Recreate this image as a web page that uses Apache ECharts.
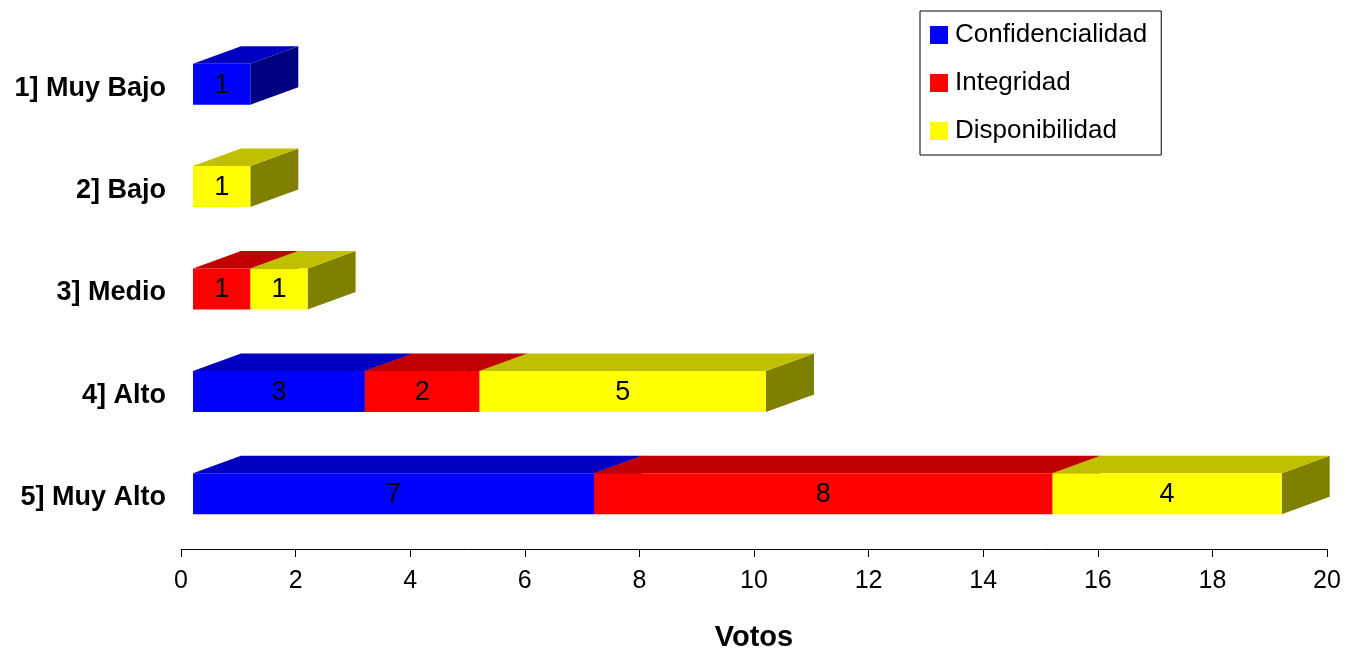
<!DOCTYPE html>
<html>
<head>
<meta charset="utf-8">
<script src="https://cdn.jsdelivr.net/npm/echarts@6/dist/echarts.min.js"></script>
<style>
html,body{margin:0;padding:0;background:#fff;}
#chart{width:1346px;height:649px;}
</style>
</head>
<body>
<div id="chart"></div>
<script>
// ---- data ----
var categories = ['1] Muy Bajo', '2] Bajo', '3] Medio', '4] Alto', '5] Muy Alto'];
var seriesNames = ['Confidencialidad', 'Integridad', 'Disponibilidad'];
var confidencialidad = [1, 0, 0, 3, 7];
var integridad = [0, 0, 1, 2, 8];
var disponibilidad = [0, 1, 1, 5, 4];
var xTicks = [0, 2, 4, 6, 8, 10, 12, 14, 16, 18, 20];

// ---- styles ----
var faceColors = [
  {front: '#0000FF', top: '#0000C0', side: '#000080'},
  {front: '#FF0000', top: '#C00000', side: '#800000'},
  {front: '#FFFF00', top: '#C0C000', side: '#808000'}
];
var FRONT_SHIFT = 12, DEPTH_X = 48, DEPTH_Y = 17.5, Y_SHIFT = -4, HEIGHT_RATIO = 0.4;

var allValues = [confidencialidad, integridad, disponibilidad];
var cum = categories.map(function () { return 0; });
var series = allValues.map(function (vals, si) {
  var data = [];
  vals.forEach(function (v, ci) {
    var start = cum[ci];
    cum[ci] += v;
    if (v > 0) data.push([start, start + v, ci, v]);
  });
  var fc = faceColors[si];
  return {
    name: seriesNames[si],
    type: 'custom',
    clip: false,
    itemStyle: {color: fc.front},
    encode: {x: [0, 1], y: 2},
    data: data,
    renderItem: function (params, api) {
      var p0 = api.coord([api.value(0), api.value(2)]);
      var p1 = api.coord([api.value(1), api.value(2)]);
      var band = api.size([0, 1])[1];
      var h = band * HEIGHT_RATIO;
      var xl = p0[0] + FRONT_SHIFT, xr = p1[0] + FRONT_SHIFT;
      var yc = p0[1] + Y_SHIFT;
      var yt = yc - h / 2, yb = yc + h / 2;
      return {
        type: 'group',
        children: [
          {type: 'polygon', shape: {points: [[xr, yt], [xr + DEPTH_X, yt - DEPTH_Y], [xr + DEPTH_X, yb - DEPTH_Y], [xr, yb]]},
           style: {fill: fc.side}},
          {type: 'polygon', shape: {points: [[xl, yt], [xl + DEPTH_X, yt - DEPTH_Y], [xr + DEPTH_X, yt - DEPTH_Y], [xr, yt]]},
           style: {fill: fc.top}},
          {type: 'rect', shape: {x: xl, y: yt, width: xr - xl, height: yb - yt},
           style: {fill: fc.front}},
          {type: 'text', x: (xl + xr) / 2, y: yc + 1,
           style: {text: String(api.value(3)), fill: '#000', fontSize: 27,
                   fontFamily: 'Liberation Sans, Arial, sans-serif', align: 'center', verticalAlign: 'middle'}}
        ]
      };
    }
  };
});

var chart = echarts.init(document.getElementById('chart'), null, {renderer: 'canvas'});
chart.setOption({
  animation: false,
  backgroundColor: '#fff',
  textStyle: {fontFamily: 'Liberation Sans, Arial, sans-serif'},
  grid: {left: 181, right: 19, top: 37, bottom: 100, containLabel: false, outerBoundsMode: 'none'},
  legend: {
    data: seriesNames,
    orient: 'vertical',
    left: 920, top: 11,
    padding: [9, 14, 9, 10],
    itemGap: 18,
    itemWidth: 18, itemHeight: 18,
    icon: 'rect',
    borderColor: '#000', borderWidth: 1,
    textStyle: {fontSize: 26, lineHeight: 30, color: '#000', padding: [0, 0, 0, 2],
                fontFamily: 'Liberation Sans, Arial, sans-serif'}
  },
  xAxis: {
    type: 'value', min: xTicks[0], max: xTicks[xTicks.length - 1], interval: xTicks[1] - xTicks[0],
    name: 'Votos', nameLocation: 'middle', nameGap: 74,
    nameTextStyle: {fontSize: 29, fontWeight: 'bold', color: '#000'},
    axisLine: {show: true, lineStyle: {color: '#000', width: 1}},
    axisTick: {show: true, inside: false, length: 8, lineStyle: {color: '#000'}},
    axisLabel: {fontSize: 25, color: '#000', margin: 20},
    splitLine: {show: false}
  },
  yAxis: {
    type: 'category', data: categories, inverse: true,
    axisLine: {show: false}, axisTick: {show: false},
    axisLabel: {fontSize: 27, fontWeight: 'bold', color: '#000', margin: 15}
  },
  series: series
});
</script>
</body>
</html>
